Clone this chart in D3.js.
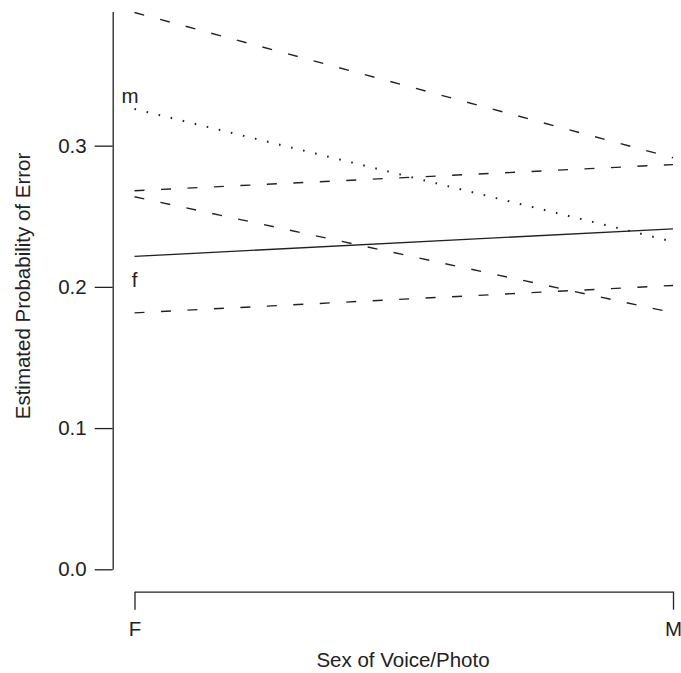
<!DOCTYPE html>
<html>
<head>
<meta charset="utf-8">
<script src="https://cdn.jsdelivr.net/npm/d3@7"></script>
<style>
  body { margin: 0; background: #fff; }
  text { font-family: "Liberation Sans", Arial, sans-serif; fill: #222; }
</style>
</head>
<body>
<div id="graph"></div>
<script>
// chart values
var sexes = ["F", "M"];
var yTicks = [0.0, 0.1, 0.2, 0.3];
var yTop = 0.395;

var dashedTop = [0.3943, 0.2914];
var dottedM = [0.326, 0.232];
var dashedUp = [0.2681, 0.2866];
var dashedDown = [0.2638, 0.1817];
var solidMean = [0.2216, 0.2411];
var dashedBottom = [0.1816, 0.2010];

var groupLabels = ["m", "f"];
var groupLabelPos = [0.3305, 0.2];

function makeChart() {

  var svgWidth = 681;
  var svgHeight = 673;

  var svg = d3.select("#graph")
    .append("svg")
    .attr("width", svgWidth)
    .attr("height", svgHeight);

  var yScale = d3.scaleLinear()
    .domain([0, yTop])
    .range([569.3, 11.5]);

  var xScale = d3.scalePoint()
    .domain(sexes)
    .range([134.5, 673]);

  var fontSize = "20.5px";

  // y axis (detached, R style)
  var yAxis = d3.axisLeft(yScale)
    .tickValues(yTicks)
    .tickFormat(d3.format(".1f"))
    .tickSize(18)
    .tickSizeOuter(0)
    .tickPadding(8);

  var yG = svg.append("g")
    .attr("transform", "translate(112.7, 0)")
    .call(yAxis);

  // x axis
  var xAxis = d3.axisBottom(xScale)
    .tickSize(18)
    .tickSizeOuter(0)
    .tickPadding(12);

  var xG = svg.append("g")
    .attr("transform", "translate(0, 591.7)")
    .call(xAxis);

  [yG, xG].forEach(function(g) {
    g.selectAll("path, line")
      .attr("stroke", "#222")
      .attr("stroke-width", 1.3);
    g.selectAll("text")
      .style("font-size", fontSize)
      .style("font-family", "'Liberation Sans', Arial, sans-serif")
      .attr("fill", "#222");
  });

  // axis titles
  svg.append("text")
    .attr("x", 403)
    .attr("y", 666.5)
    .style("text-anchor", "middle")
    .style("font-size", fontSize)
    .text("Sex of Voice/Photo");

  svg.append("text")
    .attr("transform", "translate(29.5, 286) rotate(-90)")
    .style("text-anchor", "middle")
    .style("font-size", fontSize)
    .text("Estimated Probability of Error");

  // lines
  var series = [
    {values: dashedTop, dash: "10,16.5"},
    {values: dottedM, dash: "1.6,10.8"},
    {values: dashedUp, dash: "10,16.5"},
    {values: dashedDown, dash: "10,16.5"},
    {values: solidMean, dash: null},
    {values: dashedBottom, dash: "10,16.5"}
  ];

  var line = d3.line()
    .x(function(d, i) { return xScale(sexes[i]); })
    .y(function(d) { return yScale(d); });

  series.forEach(function(s) {
    svg.append("path")
      .datum(s.values)
      .attr("d", line)
      .attr("fill", "none")
      .attr("stroke", "#222")
      .attr("stroke-width", s.dash && s.dash.startsWith("1.6") ? 2 : 1.4)
      .attr("stroke-dasharray", s.dash);
  });

  // group labels
  svg.selectAll(".grp")
    .data(groupLabels)
    .enter()
    .append("text")
    .attr("class", "grp")
    .attr("x", function(d, i) { return xScale("F") + (i == 0 ? -4.5 : 0); })
    .attr("y", function(d, i) { return yScale(groupLabelPos[i]); })
    .style("text-anchor", "middle")
    .style("font-size", fontSize)
    .text(function(d) { return d; });
}

makeChart();
</script>
</body>
</html>
